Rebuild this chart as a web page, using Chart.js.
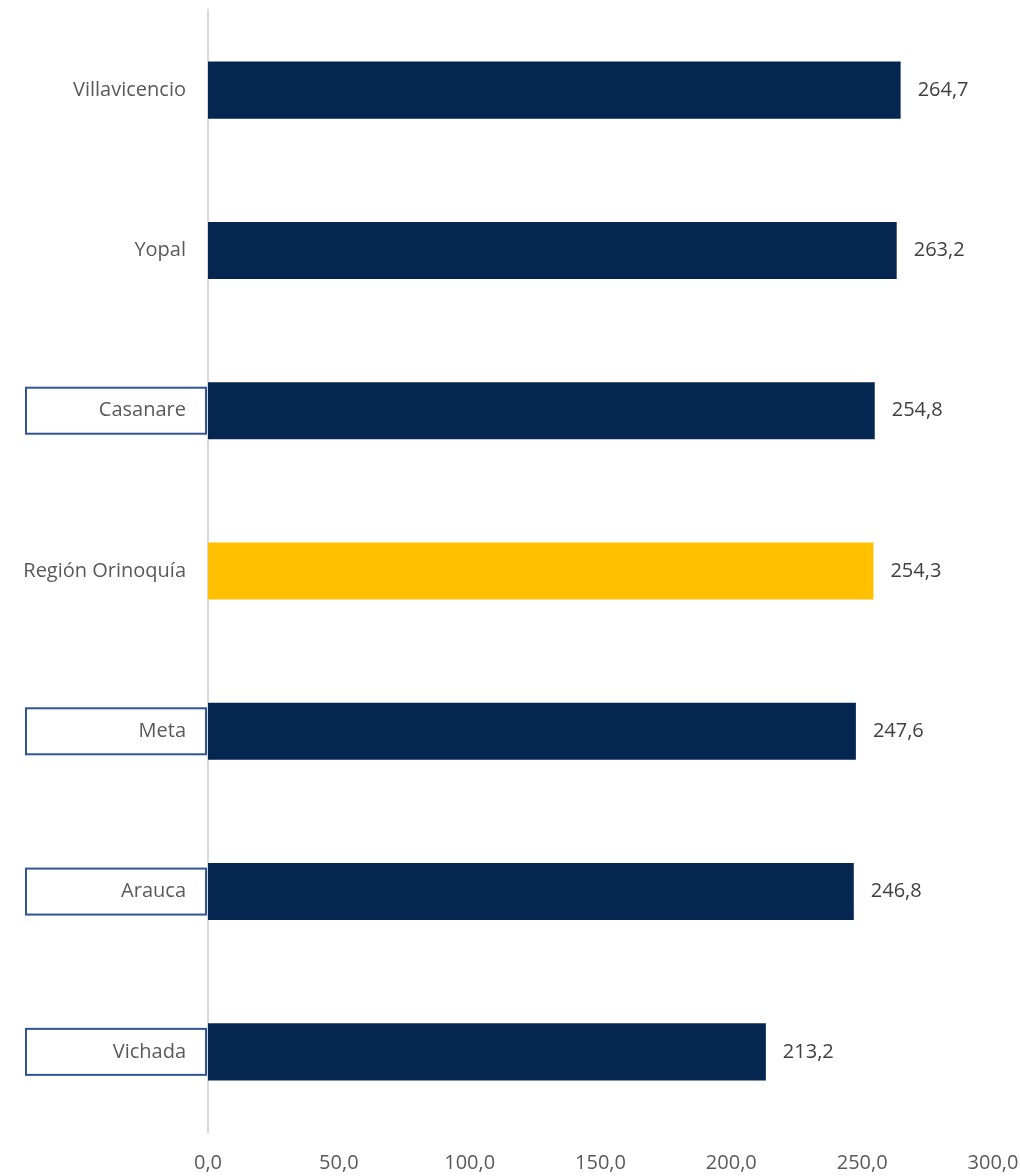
<!DOCTYPE html>
<html>
<head>
<meta charset="utf-8">
<script src="https://cdn.jsdelivr.net/npm/chart.js@4/dist/chart.umd.min.js"></script>
<style>
  body { margin: 0; background: #fff; }
  #wrap { width: 1020px; height: 1176px; position: relative; }
</style>
</head>
<body>
<div id="wrap"><canvas id="bars"></canvas></div>
<script>
var categories = ['Villavicencio', 'Yopal', 'Casanare', 'Región Orinoquía', 'Meta', 'Arauca', 'Vichada'];
var values = [264.7, 263.2, 254.8, 254.3, 247.6, 246.8, 213.2];
var xTicks = [0, 50, 100, 150, 200, 250, 300];
// departments get a framed label
var boxed = ['Casanare', 'Meta', 'Arauca', 'Vichada'];
var highlight = 'Región Orinoquía';

var NAVY = '#052651';
var GOLD = '#ffc000';

function fmt(v) {
  return v.toFixed(1).replace('.', ',');
}

// value at the end of each bar
const barValues = {
  id: 'barValues',
  afterDatasetsDraw(chart) {
    const ctx = chart.ctx;
    const meta = chart.getDatasetMeta(0);
    ctx.save();
    ctx.font = '20px "Open Sans"';
    ctx.fillStyle = '#404040';
    ctx.textAlign = 'left';
    ctx.textBaseline = 'middle';
    meta.data.forEach(function(bar, i) {
      ctx.fillText(fmt(values[i]), bar.x + 17, bar.y);
    });
    ctx.restore();
  }
};

// blue frames round some category labels
const labelBoxes = {
  id: 'labelBoxes',
  afterDraw(chart) {
    const ctx = chart.ctx;
    const y = chart.scales.y;
    ctx.save();
    ctx.strokeStyle = '#2f5597';
    ctx.lineWidth = 2;
    categories.forEach(function(name, i) {
      if (boxed.indexOf(name) < 0) return;
      const cy = y.getPixelForValue(i);
      ctx.strokeRect(26, cy - 23, 180, 46);
    });
    ctx.restore();
  }
};

var ctx = document.getElementById('bars').getContext('2d');
var chart = new Chart(ctx, {
  type: 'bar',
  data: {
    labels: categories,
    datasets: [{
      data: values,
      backgroundColor: categories.map(c => c === highlight ? GOLD : NAVY),
      borderWidth: 0,
      categoryPercentage: 1,
      barPercentage: 0.356
    }]
  },
  options: {
    indexAxis: 'y',
    responsive: true,
    maintainAspectRatio: false,
    animation: false,
    layout: {
      padding: { top: 10, right: 27, bottom: 1, left: 0 }
    },
    plugins: {
      legend: { display: false },
      tooltip: { enabled: false }
    },
    scales: {
      x: {
        min: 0,
        max: 300,
        afterBuildTicks: function(scale) {
          scale.ticks = xTicks.map(v => ({ value: v }));
        },
        afterFit: function(scale) {
          scale.height = 43;
          scale.paddingLeft = 0;
          scale.paddingRight = 0;
        },
        grid: { display: false, drawTicks: false },
        border: { display: false },
        ticks: {
          padding: 19,
          color: '#595959',
          font: { family: 'Open Sans', size: 20 },
          maxRotation: 0,
          callback: function(v) { return fmt(v); }
        }
      },
      y: {
        grid: { display: false, drawTicks: false },
        border: { display: true, color: '#d9d9d9', width: 2 },
        afterFit: function(scale) {
          scale.width = 208;
          scale.paddingTop = 0;
          scale.paddingBottom = 0;
        },
        ticks: {
          padding: 22,
          color: '#595959',
          font: { family: 'Open Sans', size: 20 }
        }
      }
    }
  },
  plugins: [barValues, labelBoxes]
});
</script>
</body>
</html>
